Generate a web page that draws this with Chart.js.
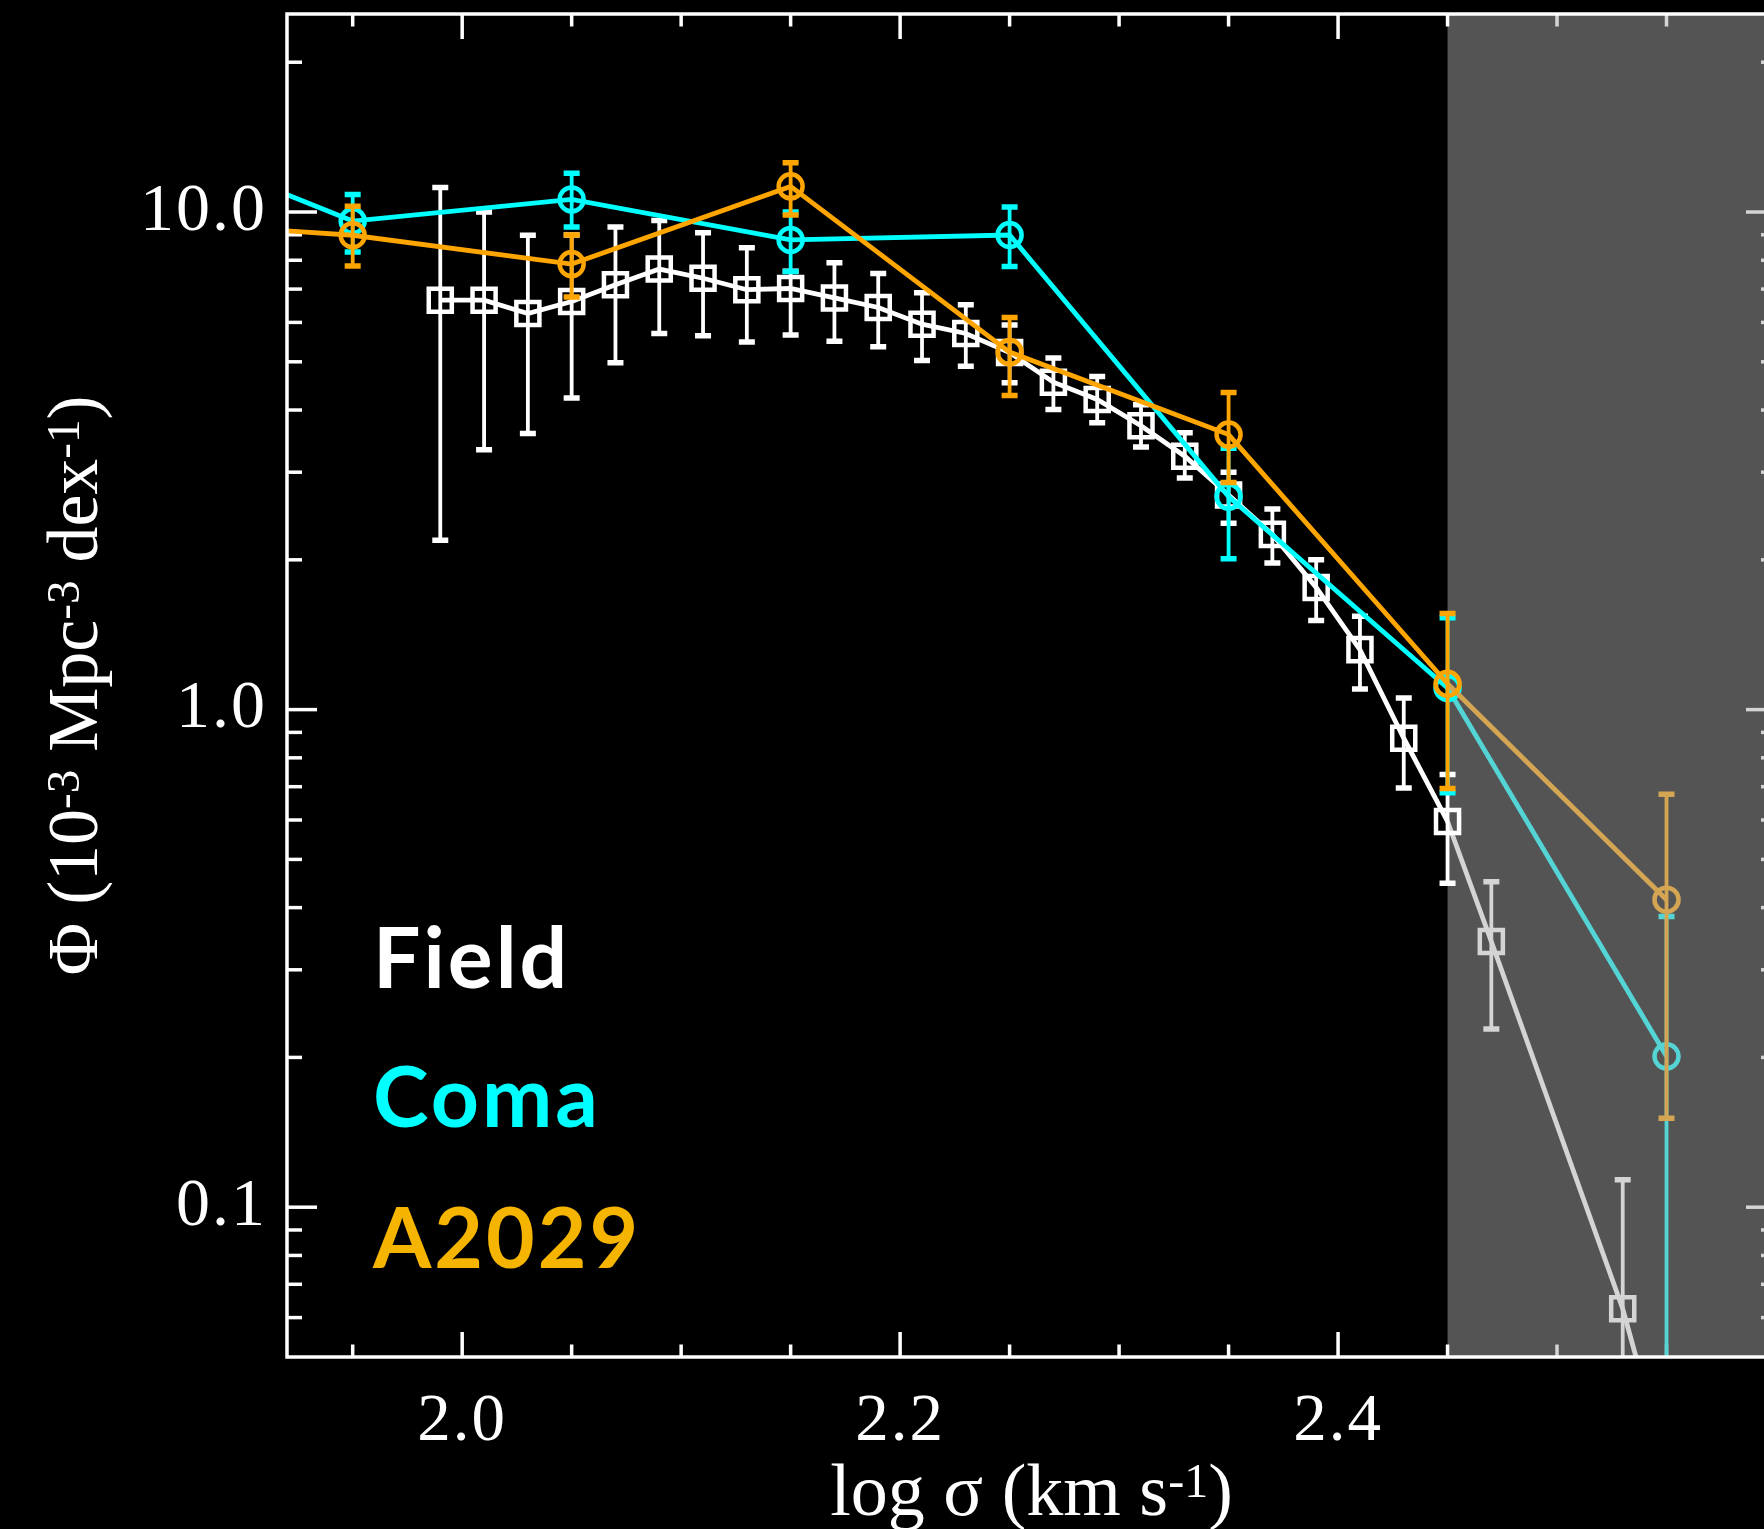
<!DOCTYPE html>
<html>
<head>
<meta charset="utf-8">
<title>Velocity dispersion function</title>
<script src="https://cdn.jsdelivr.net/npm/chart.js@4.4.1/dist/chart.umd.min.js"></script>
<style>
    html, body { margin: 0; padding: 0; background: #000; overflow: hidden; }
    #wrap { width: 1764px; height: 1529px; overflow: hidden; }
    #vdfChart { display: block; }
</style>
</head>
<body>
<div id="wrap"><canvas id="vdfChart" width="1800" height="1529"></canvas></div>
<script>
// Field: log sigma bins, Phi (1e-3 Mpc^-3 dex^-1) and error bar ends
const fieldX  = [1.99, 2.01, 2.03, 2.05, 2.07, 2.09, 2.11, 2.13, 2.15, 2.17, 2.19, 2.21, 2.23, 2.25,
                 2.27, 2.29, 2.31, 2.33, 2.35, 2.37, 2.39, 2.41, 2.43, 2.45, 2.47, 2.53, 2.55];
const fieldY  = [6.65, 6.65, 6.25, 6.61, 7.14, 7.68, 7.36, 6.98, 7.02, 6.72, 6.43, 5.95, 5.70, 5.22,
                 4.55, 4.20, 3.72, 3.23, 2.70, 2.25, 1.76, 1.32, 0.876, 0.596, 0.342, 0.0625, 0.03];
const fieldHi = [11.2, 10.0, 8.98, 8.99, 9.33, 9.62, 9.09, 8.48, 7.6, 7.91, 7.52, 6.88, 6.51, 5.93,
                 5.09, 4.67, 4.10, 3.60, 3.00, 2.53, 2.00, 1.54, 1.055, 0.741, 0.451, 0.1136, null];
const fieldLo = [2.19, 3.33, 3.59, 4.23, 4.98, 5.70, 5.64, 5.48, 5.66, 5.50, 5.36, 5.03, 4.90, 4.54,
                 4.01, 3.77, 3.37, 2.92, 2.37, 1.97, 1.51, 1.10, 0.696, 0.448, 0.228, 0.01, null];

// Coma
const comaX  = [1.85, 1.95, 2.05, 2.15, 2.25, 2.35, 2.45, 2.55];
const comaY  = [14.4, 9.59, 10.6, 8.79, 8.99, 2.68, 1.105, 0.201];
const comaHi = [null, 10.85, 11.97, 10.0, 10.23, 3.35, 1.53, 0.384];
const comaLo = [null, 8.31, 9.33, 7.59, 7.77, 2.01, 0.681, 0.001];

// A2029
const a2029X  = [1.85, 1.95, 2.05, 2.15, 2.25, 2.35, 2.45, 2.55];
const a2029Y  = [9.6, 8.98, 7.86, 11.26, 5.23, 3.57, 1.127, 0.415];
const a2029Hi = [null, 10.27, 8.99, 12.56, 6.14, 4.34, 1.56, 0.676];
const a2029Lo = [null, 7.79, 6.75, 9.86, 4.28, 2.86, 0.694, 0.151];

const xTickLabels = [2.0, 2.2, 2.4];
const yTickLabels = [0.1, 1, 10];
const groupNames = ['Field', 'Coma', 'A2029'];
const shadeFrom = 2.45;

const SERIF = '"Liberation Serif", "Times New Roman", serif';
const fadedWhite = '#d4d4d4';

function toPoints(xs, ys) {
    return xs.map((x, i) => ({ x: x, y: ys[i] }));
}

function makeDataset(label, xs, ys, lo, hi, color, faded, style, radius, order) {
    return {
        label: label,
        data: toPoints(xs, ys),
        errLo: lo,
        errHi: hi,
        fadedColor: faded,
        borderColor: color,
        borderWidth: 4.8,
        pointStyle: style,
        pointRadius: radius,
        pointHoverRadius: radius,
        pointBorderWidth: 4.5,
        pointBackgroundColor: 'rgba(0,0,0,0)',
        pointBorderColor: ctx => (ctx.raw && ctx.raw.x > shadeFrom + 0.001) ? faded : color,
        segment: {
            borderColor: ctx => ctx.p0.parsed.x >= shadeFrom - 0.001 ? faded : color
        },
        tension: 0,
        fill: false,
        order: order
    };
}

// error bars drawn right after each dataset so layering follows dataset order
const errorBars = {
    id: 'errorBars',
    afterDatasetDraw(chart, args) {
        const ds = chart.data.datasets[args.index];
        if (!ds.errLo) return;
        const { ctx, chartArea: a, scales: { x, y } } = chart;
        ctx.save();
        ctx.beginPath();
        ctx.rect(a.left, a.top, a.right - a.left, a.bottom - a.top);
        ctx.clip();
        ds.data.forEach((p, i) => {
            const lo = ds.errLo[i], hi = ds.errHi[i];
            if (lo == null || hi == null) return;
            const px = x.getPixelForValue(p.x);
            const yl = y.getPixelForValue(lo);
            const yh = y.getPixelForValue(hi);
            ctx.strokeStyle = p.x > shadeFrom + 0.001 ? ds.fadedColor : ds.borderColor;
            ctx.lineWidth = 3.8;
            ctx.beginPath();
            ctx.moveTo(px, yl);
            ctx.lineTo(px, yh);
            ctx.stroke();
            ctx.lineWidth = 5.5;
            ctx.beginPath();
            ctx.moveTo(px - 8, yh); ctx.lineTo(px + 8, yh);
            ctx.moveTo(px - 8, yl); ctx.lineTo(px + 8, yl);
            ctx.stroke();
        });
        ctx.restore();
    }
};

// grey band and inward ticks on all four sides
const bandAndTicks = {
    id: 'bandAndTicks',
    beforeDraw(chart) {
        chart.ctx.letterSpacing = '2px';
    },
    beforeDatasetsDraw(chart) {
        const { ctx, chartArea: a, scales: { x, y } } = chart;
        const xs = x.getPixelForValue(shadeFrom);
        ctx.save();
        ctx.fillStyle = '#545454';
        ctx.fillRect(xs, a.top, a.right - xs, a.bottom - a.top);
        ctx.lineWidth = 3.5;

        for (let k = 38; k <= 52; k++) {
            const v = k * 0.05;
            const px = x.getPixelForValue(v);
            if (px <= a.left + 2 || px >= a.right - 2) continue;
            const len = (k % 4 === 0) ? 25 : 12.5;
            ctx.strokeStyle = v > shadeFrom + 0.001 ? fadedWhite : '#fff';
            ctx.beginPath();
            ctx.moveTo(px, a.bottom); ctx.lineTo(px, a.bottom - len);
            ctx.moveTo(px, a.top); ctx.lineTo(px, a.top + len);
            ctx.stroke();
        }

        for (let e = -2; e <= 1; e++) {
            for (let m = 1; m <= 9; m++) {
                const v = m * Math.pow(10, e);
                if (v <= 0.0501 || v >= 24.9) continue;
                const py = y.getPixelForValue(v);
                const len = m === 1 ? 30 : 15;
                ctx.strokeStyle = '#fff';
                ctx.beginPath();
                ctx.moveTo(a.left, py); ctx.lineTo(a.left + len, py);
                ctx.stroke();
                ctx.strokeStyle = fadedWhite;
                ctx.beginPath();
                ctx.moveTo(a.right, py); ctx.lineTo(a.right - len, py);
                ctx.stroke();
            }
        }
        ctx.restore();
    }
};

function drawParts(ctx, parts, size, x0, y0) {
    let xx = x0;
    parts.forEach(p => {
        const s = p.sup ? Math.round(size * 0.65) : size;
        ctx.font = s + 'px ' + SERIF;
        ctx.fillText(p.t, xx, p.sup ? y0 - size * 0.25 : y0);
        xx += ctx.measureText(p.t).width;
    });
}

function partsWidth(ctx, parts, size) {
    let w = 0;
    parts.forEach(p => {
        ctx.font = (p.sup ? Math.round(size * 0.65) : size) + 'px ' + SERIF;
        w += ctx.measureText(p.t).width;
    });
    return w;
}

const xTitle = [{ t: 'log σ (km s' }, { t: '-1', sup: true }, { t: ')' }];
const yTitle = [{ t: 'Φ (10' }, { t: '-3', sup: true }, { t: ' Mpc' }, { t: '-3', sup: true },
                { t: ' dex' }, { t: '-1', sup: true }, { t: ')' }];

// frame on top, axis titles and the group names
const frameAndText = {
    id: 'frameAndText',
    afterDatasetsDraw(chart) {
        const { ctx, chartArea: a } = chart;
        ctx.save();
        ctx.strokeStyle = '#fff';
        ctx.lineWidth = 3.5;
        ctx.strokeRect(a.left, a.top, a.right - a.left, a.bottom - a.top);
        ctx.restore();
    },
    afterDraw(chart) {
        const { ctx, chartArea: a } = chart;
        ctx.save();
        ctx.fillStyle = '#fff';
        ctx.textBaseline = 'alphabetic';
        ctx.textAlign = 'left';
        ctx.letterSpacing = '0px';

        const cx = (a.left + a.right) / 2;
        const wx = partsWidth(ctx, xTitle, 74);
        drawParts(ctx, xTitle, 74, cx - wx / 2, 1515);

        const cy = (a.top + a.bottom) / 2;
        ctx.save();
        ctx.translate(97, cy);
        ctx.rotate(-Math.PI / 2);
        const wy = partsWidth(ctx, yTitle, 72);
        drawParts(ctx, yTitle, 72, -wy / 2, 0);
        ctx.restore();

        const colors = ['#ffffff', '#00ffff', '#f5b400'];
        const baselines = [988, 1127, 1268];
        ctx.font = '700 84px Lato, "Open Sans", sans-serif';
        ctx.letterSpacing = '3px';
        groupNames.forEach((name, i) => {
            ctx.fillStyle = colors[i];
            ctx.fillText(name, a.left + 86, baselines[i]);
        });
        ctx.restore();
    }
};

const datasets = [
    makeDataset('Field', fieldX, fieldY, fieldLo, fieldHi, '#ffffff', fadedWhite, 'rect', 16.3, 3),
    makeDataset('Coma', comaX, comaY, comaLo, comaHi, '#00ffff', '#54d4d4', 'circle', 12, 2),
    makeDataset('A2029', a2029X, a2029Y, a2029Lo, a2029Hi, '#ffa500', '#d4a654', 'circle', 12, 1)
];

new Chart(document.getElementById('vdfChart'), {
    type: 'line',
    data: { datasets: datasets },
    options: {
        responsive: false,
        animation: false,
        events: [],
        layout: { autoPadding: false, padding: { left: 0, top: 14, right: 24, bottom: 0 } },
        plugins: {
            legend: { display: false },
            tooltip: { enabled: false }
        },
        scales: {
            x: {
                type: 'linear',
                min: 1.92,
                max: 2.6,
                grid: { display: false, drawTicks: false },
                border: { display: false },
                afterBuildTicks: s => { s.ticks = xTickLabels.map(v => ({ value: v })); },
                afterFit: s => { s.height = 172; s.paddingLeft = 0; s.paddingRight = 0; },
                ticks: {
                    color: '#fff',
                    font: { family: SERIF, size: 67 },
                    padding: 25,
                    maxRotation: 0,
                    autoSkip: false,
                    callback: v => Number(v).toFixed(1)
                }
            },
            y: {
                type: 'logarithmic',
                min: 0.05,
                max: 25,
                grid: { display: false, drawTicks: false },
                border: { display: false },
                afterBuildTicks: s => { s.ticks = yTickLabels.map(v => ({ value: v })); },
                afterFit: s => { s.width = 287; s.paddingTop = 0; s.paddingBottom = 0; },
                ticks: {
                    color: '#fff',
                    font: { family: SERIF, size: 68 },
                    padding: 20,
                    autoSkip: false,
                    callback: v => Number(v).toFixed(1)
                }
            }
        }
    },
    plugins: [bandAndTicks, errorBars, frameAndText]
});
</script>
</body>
</html>
